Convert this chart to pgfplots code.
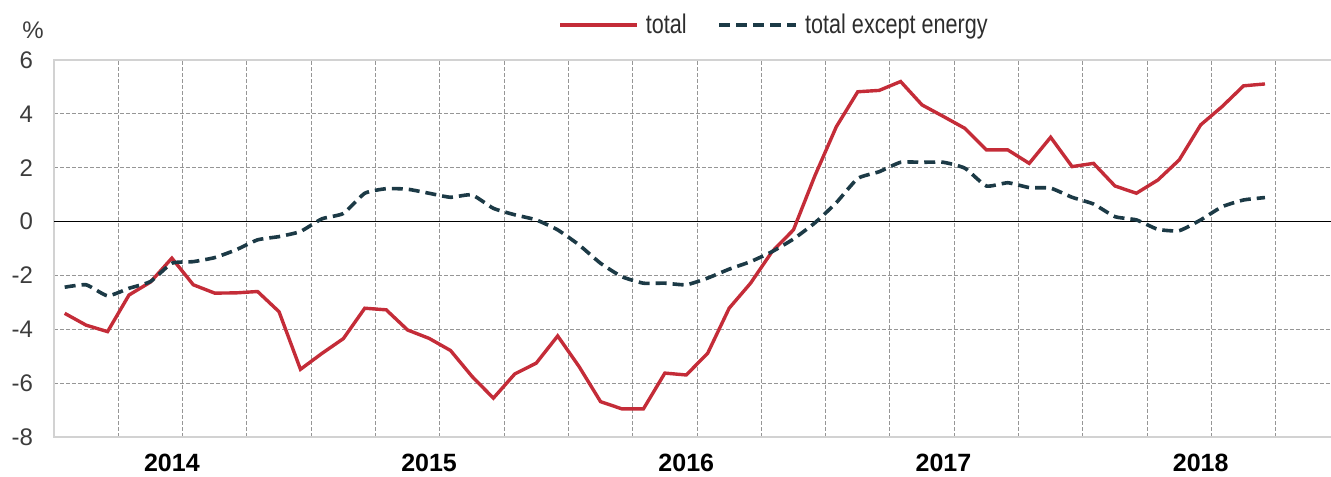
\documentclass[border=0pt]{standalone}
\usepackage{fontspec}
\setmainfont{Liberation Sans}
\newfontfamily\narrowfont{Liberation Sans}[FakeStretch=0.8]
\usepackage{pgfplots}
\pgfplotsset{compat=1.18}
\definecolor{totred}{RGB}{196,44,56}
\definecolor{exdark}{RGB}{28,58,70}
\definecolor{gridgray}{RGB}{150,150,150}
\definecolor{framegray}{RGB}{210,210,210}
\definecolor{ticktext}{RGB}{60,60,60}
\definecolor{legtext}{RGB}{45,45,45}
\begin{document}
\begin{tikzpicture}
\path[use as bounding box] (-27pt,-20pt) rectangle (638.65pt,218.5pt);
\begin{axis}[
  at={(0,0)}, anchor=south west,
  scale only axis, width=638.65pt, height=188.5pt,
  xmin=-0.5, xmax=59.08, ymin=-8, ymax=6,
  axis line style={draw=none},
  major tick length=0pt,
  xtick={2.5,5.5,...,56.5}, xticklabels={},
  xmajorgrids=true,
  ytick={-8,-6,...,6}, yticklabels={-8,-6,-4,-2,0,2,4,6},
  yticklabel style={font=\fontsize{12}{14}\selectfont, text=ticktext, xshift=-7pt},
  extra y ticks={-6,-4,-2,2,4}, extra y tick labels={},
  extra y tick style={grid=major},
  extra x ticks={5,17,29,41,53},
  extra x tick labels={2014,2015,2016,2017,2018},
  extra x tick style={grid=none, xticklabel style={font=\bfseries\fontsize{12.5}{14}\selectfont, text=black, yshift=-5pt}},
  grid style={gridgray, dash pattern=on 2pt off 1pt, line width=0.5pt},
  clip=false,
  legend style={draw=none, fill=none, at={(axis description cs:0.390,1.093)}, anchor=west,
    legend columns=2, font=\narrowfont\fontsize{13.5}{15}\selectfont, text=legtext,
    nodes={inner xsep=3.5pt},
    /tikz/every even column/.append style={column sep=12pt}},
  legend image code/.code={\draw[#1] (0pt,0pt) -- (38.5pt,0pt);},
]
\draw[framegray, line width=0.75pt] (rel axis cs:1,1) -- (rel axis cs:0,1) -- (rel axis cs:0,0) -- (rel axis cs:1,0);
\addplot[black, line width=0.85pt, forget plot] coordinates {(-0.5,0) (59.08,0)};
\addplot[totred, line width=1.7pt] coordinates {
(0,-3.41) (1,-3.85) (2,-4.09) (3,-2.73) (4,-2.25) (5,-1.36) (6,-2.35) (7,-2.66) (8,-2.65) (9,-2.6)
(10,-3.35) (11,-5.49) (12,-4.9) (13,-4.35) (14,-3.22) (15,-3.28) (16,-4.03) (17,-4.34) (18,-4.79) (19,-5.75)
(20,-6.56) (21,-5.66) (22,-5.26) (23,-4.25) (24,-5.39) (25,-6.69) (26,-6.96) (27,-6.96) (28,-5.63) (29,-5.7)
(30,-4.89) (31,-3.22) (32,-2.29) (33,-1.12) (34,-0.31) (35,1.7) (36,3.52) (37,4.82) (38,4.87) (39,5.2)
(40,4.33) (41,3.9) (42,3.46) (43,2.66) (44,2.66) (45,2.16) (46,3.13) (47,2.04) (48,2.16) (49,1.32)
(50,1.05) (51,1.54) (52,2.29) (53,3.59) (54,4.27) (55,5.04) (56,5.11)
};
\addlegendentry{total}
\addplot[exdark, line width=1.8pt, dash pattern=on 5.5pt off 3pt, smooth, tension=0.3] coordinates {
(0,-2.44) (1,-2.35) (2,-2.76) (3,-2.48) (4,-2.23) (5,-1.55) (6,-1.49) (7,-1.34) (8,-1.05) (9,-0.68)
(10,-0.56) (11,-0.37) (12,0.1) (13,0.3) (14,1.05) (15,1.22) (16,1.2) (17,1.05) (18,0.9) (19,0.99)
(20,0.49) (21,0.25) (22,0.06) (23,-0.31) (24,-0.87) (25,-1.55) (26,-2.05) (27,-2.29) (28,-2.29) (29,-2.35)
(30,-2.1) (31,-1.77) (32,-1.49) (33,-1.12) (34,-0.65) (35,-0.05) (36,0.7) (37,1.6) (38,1.85) (39,2.2)
(40,2.2) (41,2.2) (42,1.98) (43,1.32) (44,1.44) (45,1.26) (46,1.24) (47,0.9) (48,0.65) (49,0.18)
(50,0.06) (51,-0.29) (52,-0.34) (53,0.06) (54,0.55) (55,0.8) (56,0.89)
};
\addlegendentry{total except energy}
\node[font=\fontsize{12}{14}\selectfont, text=ticktext] at (axis description cs:-0.0164,1.08) {\%};
\end{axis}
\end{tikzpicture}
\end{document}
